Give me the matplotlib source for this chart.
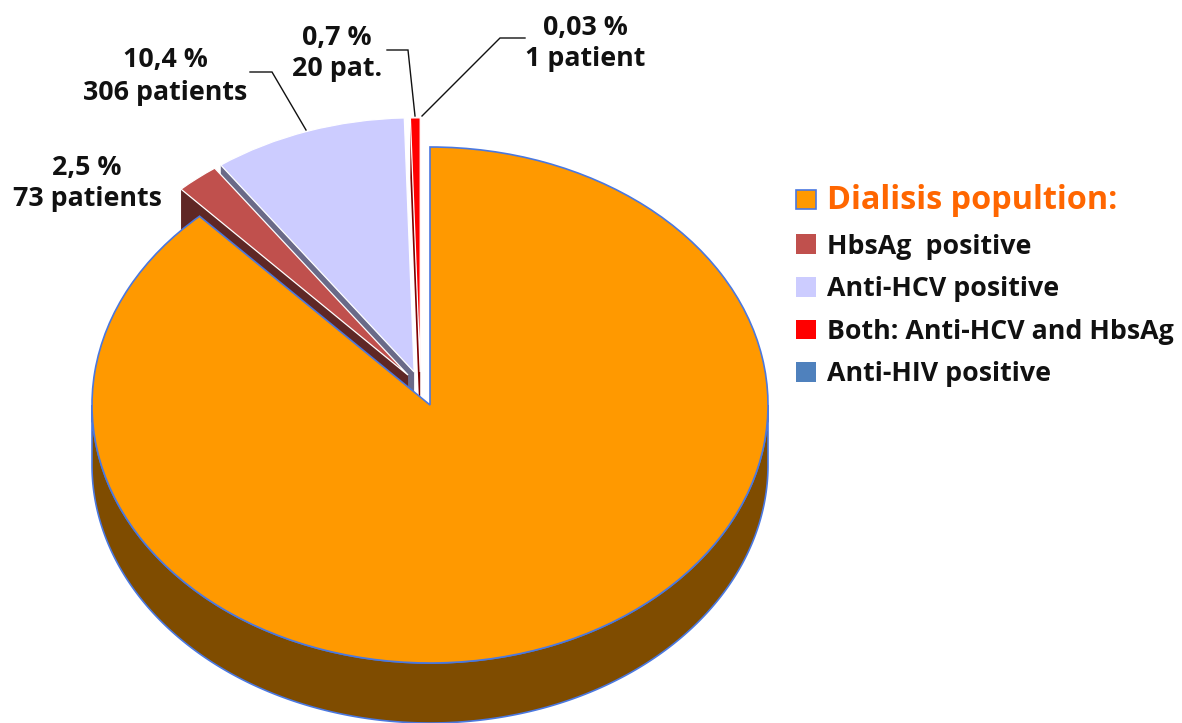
import numpy as np
import matplotlib
matplotlib.use("Agg")
import matplotlib.pyplot as plt
from matplotlib.patches import Polygon

# Legend categories
categories = ["Dialisis popultion:", "HbsAg  positive", "Anti-HCV positive",
              "Both: Anti-HCV and HbsAg", "Anti-HIV positive"]
# Slice shares as they appear in the drawn (perspective-distorted) pie, in %
slice_shares = [88.06, 2.08, 9.39, 0.47, 0.0]
top_colors = ["#ff9900", "#c0504d", "#ccccff", "#ff0000", "#4f81bd"]
side_colors = ["#7f4c00", "#5f2725", "#6a6a88", "#7f0000", "#28405e"]
# Data labels
slice_labels = ["2,5 %\n73 patients", "10,4 %\n306 patients", "0,7 %\n20 pat.", "0,03 %\n1 patient"]

W, H = 1182, 723
CX, CY, RX, RY = 430, 405, 338, 258
DEPTH = 60 / RY
BLUE = "#4a78e0"
FONT = "Open Sans"

fig = plt.figure(figsize=(W / 100, H / 100), dpi=100, facecolor="white")
ax = fig.add_axes([0, 0, 1, 1])
wedges, _ = ax.pie(slice_shares, startangle=90, counterclock=False, colors=top_colors, normalize=True)
ax.set_aspect("auto")
ax.set_xlim((0 - CX) / RX, (W - CX) / RX)
ax.set_ylim((CY - H) / RY, (CY - 0) / RY)
ax.axis("off")

# Pulled-out slices: offset of each slice's apex, in pie radii
offsets = {1: (-0.065, 0.116), 2: (-0.047, 0.128), 3: (-0.029, 0.128)}
draw_order = [3, 2, 1]
small_r = 0.985
z = 1
for i in draw_order:
    w = wedges[i]
    off = offsets[i]
    w.set_center(off)
    w.set_radius(small_r)
    t = np.deg2rad(w.theta2)
    corner = (off[0] + small_r * np.cos(t), off[1] + small_r * np.sin(t))
    face = Polygon([off, corner, (corner[0], corner[1] - DEPTH), (off[0], off[1] - DEPTH)],
                   closed=True, facecolor=side_colors[i], edgecolor="none", zorder=z)
    ax.add_patch(face)
    w.set_zorder(z + 1)
    w.set_edgecolor("white")
    w.set_linewidth(0.9)
    z += 2

# Main slice: visible outer wall, then top face
t = np.deg2rad(np.linspace(180, 360, 300))
upper = np.column_stack([np.cos(t), np.sin(t)])
lower = upper[::-1] - np.array([0, DEPTH])
ax.add_patch(Polygon(np.vstack([upper, lower]), closed=True, facecolor=side_colors[0],
                     edgecolor=BLUE, linewidth=1.2, zorder=z))
wedges[0].set_zorder(z + 1)
wedges[0].set_edgecolor(BLUE)
wedges[0].set_linewidth(1.2)
wedges[4].set_visible(False)

# Overlay in pixel coordinates for labels, leaders and the legend
ov = fig.add_axes([0, 0, 1, 1], facecolor="none")
ov.set_xlim(0, W)
ov.set_ylim(H, 0)
ov.axis("off")

label_pos = [(87, 183.5), (165, 76.5), (337, 53.5), (585, 43.5)]
for s, (x, y) in zip(slice_labels, label_pos):
    ov.text(x, y, s, ha="center", va="center", family=FONT, fontweight="bold",
            fontsize=19.3, color="#111111", linespacing=1.3)

leaders = [([250, 272, 306], [72, 72, 130]),
           ([387, 408, 415], [50, 50, 116]),
           ([525, 500, 422], [38, 38, 116])]
for xs, ys in leaders:
    ov.plot(xs, ys, color="#111111", lw=1.0, solid_joinstyle="miter")

handles = [plt.Rectangle((0, 0), 1, 1, facecolor=c, edgecolor=(BLUE if i == 0 else "none"), linewidth=1.2)
           for i, c in enumerate(top_colors)]
leg = ov.legend(handles, categories, loc="upper left", bbox_to_anchor=(796, 184),
                bbox_transform=ov.transData, frameon=False, borderpad=0, borderaxespad=0,
                prop={"family": FONT, "weight": "bold", "size": 19.3},
                handlelength=0.75, handleheight=0.75, handletextpad=0.41, labelspacing=0.62)
texts = leg.get_texts()
texts[0].set_fontsize(23.3)
texts[0].set_color("#ff6600")
for tx in texts[1:]:
    tx.set_color("#111111")

fig.savefig("out.png", dpi=100, facecolor="white")
